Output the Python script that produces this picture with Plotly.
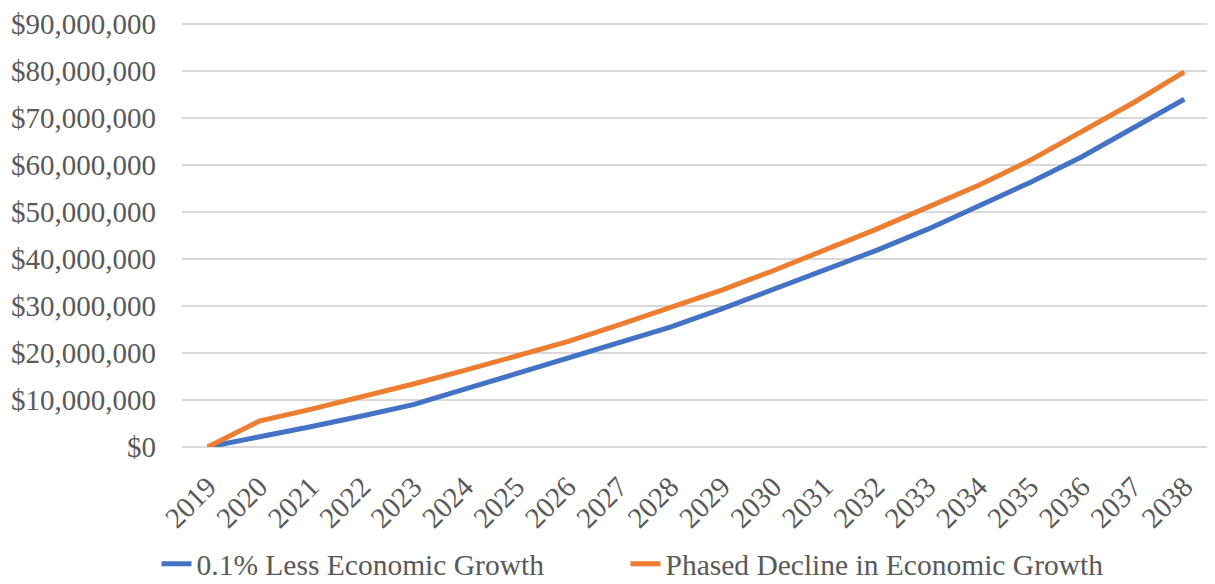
import plotly.graph_objects as go

years = [str(y) for y in range(2019, 2039)]
less_growth = [0, 2.1, 4.3, 6.6, 9.0, 12.3, 15.6, 18.7, 22.0, 25.5, 29.4, 33.5, 37.5,
               41.8, 46.3, 51.2, 56.3, 61.7, 67.8, 74.0]
phased_decline = [0, 5.5, 8.0, 10.6, 13.4, 16.3, 19.3, 22.4, 26.0, 29.6, 33.4, 37.5, 41.8,
                  46.3, 51.0, 55.7, 61.0, 67.0, 73.2, 79.8]
tick_vals = [i * 10_000_000 for i in range(10)]
tick_text = ["$0"] + [f"${v:,}" for v in tick_vals[1:]]

font_family = "Liberation Serif, Times New Roman, serif"
text_color = "#595959"
fs = 29
legend_fs = 29.5

fig = go.Figure()
fig.add_trace(go.Scatter(
    x=years, y=[v * 1_000_000 for v in less_growth], mode="lines",
    name="0.1% Less Economic Growth",
    line=dict(color="#4472C4", width=5), legend="legend",
))
fig.add_trace(go.Scatter(
    x=years, y=[v * 1_000_000 for v in phased_decline], mode="lines",
    name="Phased Decline in Economic Growth",
    line=dict(color="#ED7D31", width=5), legend="legend2",
))

legend_common = dict(orientation="h", xanchor="left", y=-0.272, yanchor="middle",
                     font=dict(size=legend_fs, color=text_color), bgcolor="rgba(0,0,0,0)")
fig.update_layout(
    width=1207, height=576,
    margin=dict(l=174, r=5, t=9, b=137, autoexpand=False),
    paper_bgcolor="white", plot_bgcolor="white",
    font=dict(family=font_family, size=fs, color=text_color),
    legend=dict(x=-0.0248, **legend_common),
    legend2=dict(x=0.4314, **legend_common),
    showlegend=True,
)
fig.update_xaxes(
    type="category", range=[-0.5, 19.5], tickangle=-45,
    showgrid=False, showline=False, ticks="", zeroline=False, automargin=False,
    ticklabelstandoff=16,
    tickfont=dict(size=fs, color=text_color),
)
fig.update_yaxes(
    range=[0, 91_500_000], tickvals=tick_vals, ticktext=tick_text,
    showgrid=True, gridcolor="#D9D9D9", gridwidth=1.5,
    zeroline=True, zerolinecolor="#D9D9D9", zerolinewidth=1.5, automargin=False,
    showline=False, ticks="", ticklen=0, ticklabelstandoff=25,
    tickfont=dict(size=fs, color=text_color),
)

fig.write_html("out.html")
